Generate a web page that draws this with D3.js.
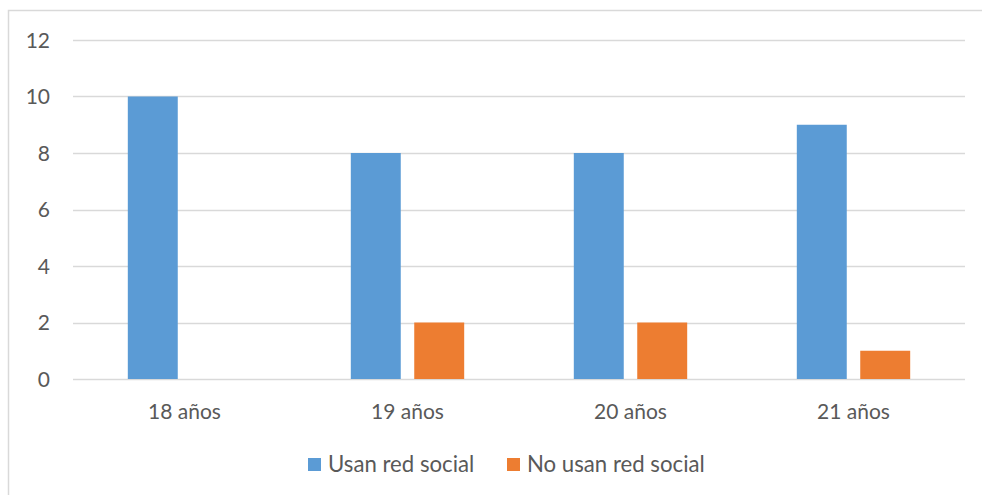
<!DOCTYPE html>
<html>
<head>
<meta charset="utf-8">
<script src="https://cdn.jsdelivr.net/npm/d3@7"></script>
<style>
  html, body { margin: 0; padding: 0; background: #fff; }
  svg { display: block; }
  .lbl { font-family: Lato, "Open Sans", sans-serif; fill: #595959; }
</style>
</head>
<body>
<svg id="chart" width="982" height="495"></svg>
<script>
// chart data
const categories = ['18 años', '19 años', '20 años', '21 años'];
const seriesNames = ['Usan red social', 'No usan red social'];
const usan = [10, 8, 8, 9];
const noUsan = [0, 2, 2, 1];
const yTicks = [0, 2, 4, 6, 8, 10, 12];

const COLORS = ['#5b9bd5', '#ed7d31'];

const W = 982, H = 495;
const plot = { left: 73, right: 965, top: 40, bottom: 379 };

const svg = d3.select('#chart');

// outer chart border (runs past the right and bottom edges)
svg.append('rect')
  .attr('x', 8.5).attr('y', 10.5)
  .attr('width', W).attr('height', H)
  .attr('fill', 'none')
  .attr('stroke', '#d9d9d9')
  .attr('stroke-width', 1.5);

const x = d3.scaleBand()
  .domain(categories)
  .range([plot.left, plot.right])
  .paddingInner(0).paddingOuter(0);

const xSub = d3.scaleBand()
  .domain(seriesNames)
  .range([0, x.bandwidth()])
  .paddingInner(0.2126)
  .paddingOuter(0.864);

const y = d3.scaleLinear()
  .domain([0, 12])
  .range([plot.bottom, plot.top]);

// gridlines
svg.append('g')
  .selectAll('line')
  .data(yTicks)
  .join('line')
  .attr('x1', plot.left).attr('x2', plot.right)
  .attr('y1', d => Math.round(y(d)) + 0.5)
  .attr('y2', d => Math.round(y(d)) + 0.5)
  .attr('stroke', '#d9d9d9')
  .attr('stroke-width', 1.3);

// y labels
svg.append('g')
  .selectAll('text')
  .data(yTicks)
  .join('text')
  .attr('class', 'lbl')
  .attr('x', 50)
  .attr('y', d => y(d))
  .attr('dy', '0.36em')
  .attr('text-anchor', 'end')
  .attr('font-size', 21)
  .text(d => d);

// bars
const rows = categories.map((c, i) => ({ cat: c, vals: [usan[i], noUsan[i]] }));

const groups = svg.append('g')
  .selectAll('g')
  .data(rows)
  .join('g')
  .attr('transform', d => `translate(${x(d.cat)},0)`);

groups.selectAll('rect')
  .data(d => d.vals.map((v, k) => ({ name: seriesNames[k], v, k })))
  .join('rect')
  .attr('x', d => xSub(d.name))
  .attr('width', xSub.bandwidth())
  .attr('y', d => y(d.v))
  .attr('height', d => y(0) - y(d.v))
  .attr('fill', d => COLORS[d.k]);

// category labels
svg.append('g')
  .selectAll('text')
  .data(categories)
  .join('text')
  .attr('class', 'lbl')
  .attr('x', d => x(d) + x.bandwidth() / 2)
  .attr('y', 419)
  .attr('text-anchor', 'middle')
  .attr('font-size', 21)
  .text(d => d);

// legend
const legendPos = [308, 507];
const legend = svg.append('g')
  .selectAll('g')
  .data(seriesNames)
  .join('g')
  .attr('transform', (d, i) => `translate(${legendPos[i]},0)`);

legend.append('rect')
  .attr('x', 0).attr('y', 458)
  .attr('width', 13).attr('height', 13)
  .attr('fill', (d, i) => COLORS[i]);

legend.append('text')
  .attr('class', 'lbl')
  .attr('x', 20)
  .attr('y', 472)
  .attr('font-size', 22.2)
  .text(d => d);
</script>
</body>
</html>
